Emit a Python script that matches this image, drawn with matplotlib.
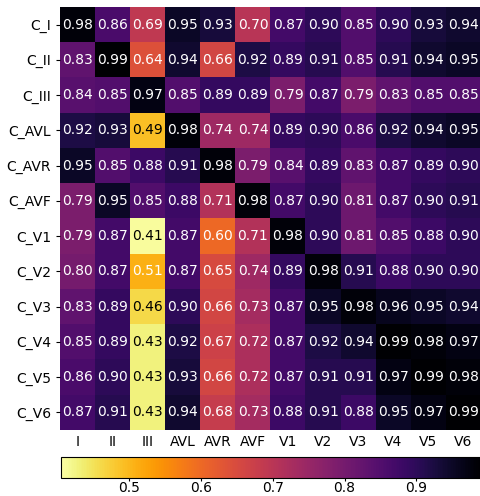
import numpy as np
import matplotlib
matplotlib.use("Agg")
import matplotlib.pyplot as plt

col_labels = ["I", "II", "III", "AVL", "AVR", "AVF", "V1", "V2", "V3", "V4", "V5", "V6"]
row_labels = ["C_I", "C_II", "C_III", "C_AVL", "C_AVR", "C_AVF", "C_V1", "C_V2", "C_V3", "C_V4", "C_V5", "C_V6"]

row_I   = [0.98, 0.86, 0.69, 0.95, 0.93, 0.70, 0.87, 0.90, 0.85, 0.90, 0.93, 0.94]
row_II  = [0.83, 0.99, 0.64, 0.94, 0.66, 0.92, 0.89, 0.91, 0.85, 0.91, 0.94, 0.95]
row_III = [0.84, 0.85, 0.97, 0.85, 0.89, 0.89, 0.79, 0.87, 0.79, 0.83, 0.85, 0.85]
row_AVL = [0.92, 0.93, 0.49, 0.98, 0.74, 0.74, 0.89, 0.90, 0.86, 0.92, 0.94, 0.95]
row_AVR = [0.95, 0.85, 0.88, 0.91, 0.98, 0.79, 0.84, 0.89, 0.83, 0.87, 0.89, 0.90]
row_AVF = [0.79, 0.95, 0.85, 0.88, 0.71, 0.98, 0.87, 0.90, 0.81, 0.87, 0.90, 0.91]
row_V1  = [0.79, 0.87, 0.41, 0.87, 0.60, 0.71, 0.98, 0.90, 0.81, 0.85, 0.88, 0.90]
row_V2  = [0.80, 0.87, 0.51, 0.87, 0.65, 0.74, 0.89, 0.98, 0.91, 0.88, 0.90, 0.90]
row_V3  = [0.83, 0.89, 0.46, 0.90, 0.66, 0.73, 0.87, 0.95, 0.98, 0.96, 0.95, 0.94]
row_V4  = [0.85, 0.89, 0.43, 0.92, 0.67, 0.72, 0.87, 0.92, 0.94, 0.99, 0.98, 0.97]
row_V5  = [0.86, 0.90, 0.43, 0.93, 0.66, 0.72, 0.87, 0.91, 0.91, 0.97, 0.99, 0.98]
row_V6  = [0.87, 0.91, 0.43, 0.94, 0.68, 0.73, 0.88, 0.91, 0.88, 0.95, 0.97, 0.99]

data = np.array([row_I, row_II, row_III, row_AVL, row_AVR, row_AVF,
                 row_V1, row_V2, row_V3, row_V4, row_V5, row_V6])

fig = plt.figure(figsize=(4.81, 4.96), dpi=100)
ax = fig.add_axes([60/481, 66/496, 421/481, 423/496])
im = ax.imshow(data, cmap="inferno_r", aspect="auto", vmin=0.405, vmax=0.99)
ax.set_xticks(range(len(col_labels)))
ax.set_xticklabels(col_labels, fontsize=10)
ax.set_yticks(range(len(row_labels)))
ax.set_yticklabels(row_labels, fontsize=10)
for s in ax.spines.values():
    s.set_visible(False)
ax.tick_params(axis="x", length=0, pad=3.5)
ax.tick_params(axis="y", length=3)

for i in range(data.shape[0]):
    for j in range(data.shape[1]):
        v = data[i, j]
        ax.text(j, i, f"{v:.2f}", ha="center", va="center",
                color="black" if v < 0.5 else "white", fontsize=10)

cax = fig.add_axes([61/481, 18/496, 420/481, 21/496])
cb = fig.colorbar(im, cax=cax, orientation="horizontal")
cb.set_ticks([0.5, 0.6, 0.7, 0.8, 0.9])
cb.ax.tick_params(labelsize=10, length=2, pad=0)

fig.savefig("out.png", dpi=100)
